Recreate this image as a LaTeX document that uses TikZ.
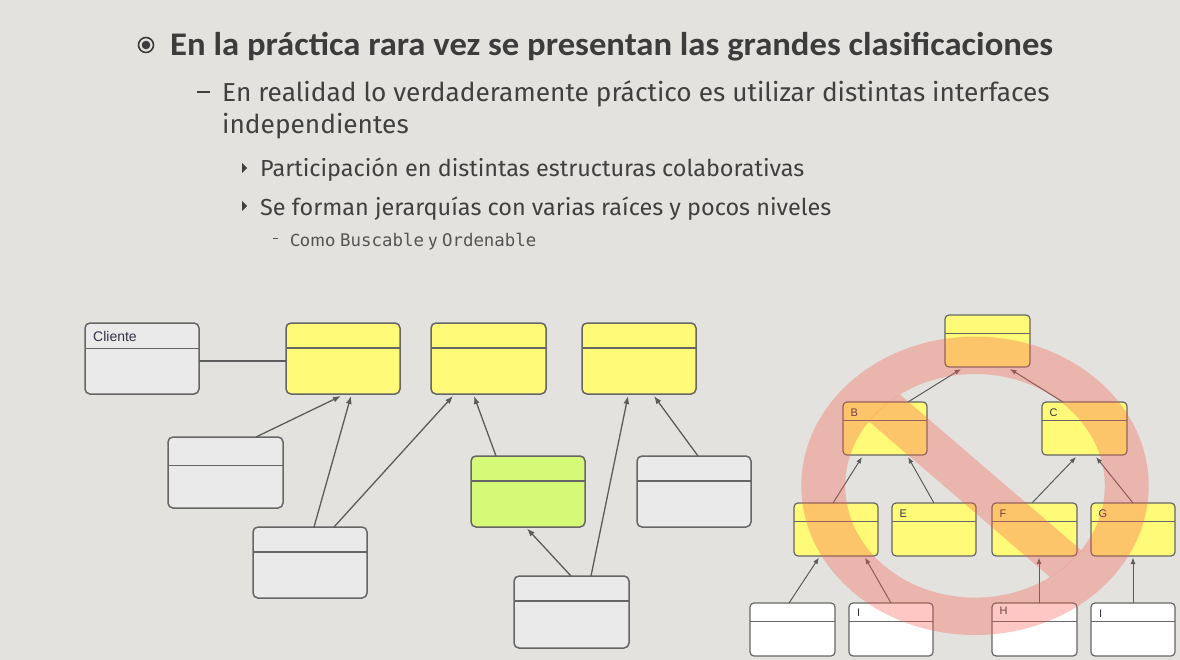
\documentclass[tikz,border=0pt]{standalone}
\usepackage{fontspec}
\usetikzlibrary{calc,arrows.meta}
\setmainfont{Fira Sans}
\newfontfamily\titlef{Carlito}[FakeStretch=1.05]
\newfontfamily\bodyf{Fira Sans}[FakeStretch=1.01]
\newfontfamily\umlf{Liberation Sans}
\newfontfamily\monof{DejaVu Sans Mono}
\definecolor{bgc}{RGB}{227,226,222}
\definecolor{txtc}{RGB}{60,60,60}
\definecolor{bodyc}{RGB}{64,64,64}
\definecolor{grayc}{RGB}{85,85,85}
\definecolor{ylw}{RGB}{255,250,120}
\definecolor{grn}{RGB}{213,250,120}
\definecolor{gbox}{RGB}{234,234,234}
\definecolor{edgec}{RGB}{102,102,102}
\definecolor{arrc}{RGB}{92,92,92}
\definecolor{lblc}{RGB}{50,50,70}
\definecolor{prohib}{RGB}{250,90,75}
\tikzset{
  bigbox/.style={draw=edgec, line width=1.5pt, rounded corners=5pt, inner sep=0pt, outer sep=0pt},
  smallbox/.style={draw=edgec, line width=1.2pt, rounded corners=4pt, inner sep=0pt, outer sep=0pt},
  divline/.style={draw=edgec, line width=1.5pt},
  sdivline/.style={draw=edgec, line width=1.2pt},
  arr/.style={draw=arrc, line width=1.3pt, -{Latex[length=8pt,width=6pt]}},
  sarr/.style={draw=arrc, line width=1pt, -{Latex[length=6.5pt,width=5pt]}},
  assoc/.style={draw=arrc, line width=1.3pt},
  lbl/.style={anchor=west, inner sep=0pt, text=lblc, font=\umlf\fontsize{14}{16}\selectfont},
  slbl/.style={anchor=west, inner sep=0pt, text=lblc, font=\umlf\fontsize{11}{13}\selectfont},
  txt/.style={anchor=base west, inner sep=0pt},
}
\newcommand{\mkbox}[8]{% style, divstyle, name, x, y, w, h, div
  \node[#1, minimum width=#6pt, minimum height=#7pt, anchor=north west] (#3) at (#4,#5) {};
  \draw[#2] ($(#3.north west)+(0,#8)$) -- ($(#3.north east)+(0,#8)$);
}
\begin{document}
\begin{tikzpicture}[x=1pt,y=-1pt]
\fill[bgc] (0,0) rectangle (1180,660);
\useasboundingbox (0,0) rectangle (1180,660);

% ---------- text ----------
\draw[txtc, line width=1.6pt] (146,45) circle (7.5);
\fill[txtc] (146,45) circle (4.3);
\node[txt, text=txtc, font=\titlef\bfseries\fontsize{33}{39}\selectfont] (title) at (170,56)
  {En la práctica rara vez se presentan las grandes clasificaciones};
\draw[bodyc, line width=2.6pt] (197,92) -- (210,92);
\node[txt, text=bodyc, font=\bodyf\fontsize{26}{30}\selectfont] (s1) at (222,101.5)
  {En realidad lo verdaderamente práctico es utilizar distintas interfaces};
\node[txt, text=bodyc, font=\bodyf\fontsize{26}{30}\selectfont] (s1b) at (222,133.5)
  {independientes};
\fill[bodyc] (242,163) -- (247,168) -- (242,173) -- cycle;
\node[txt, text=bodyc, font=\bodyf\fontsize{23.2}{27}\selectfont] (s2) at (260,177)
  {Participación en distintas estructuras colaborativas};
\fill[bodyc] (242,201) -- (247,206) -- (242,211) -- cycle;
\node[txt, text=bodyc, font=\bodyf\fontsize{23.2}{27}\selectfont] (s3) at (260,215.5)
  {Se forman jerarquías con varias raíces y pocos niveles};
\draw[grayc, line width=1.4pt] (273,238.5) -- (278,238.5);
\node[txt, text=grayc, font=\bodyf\fontsize{17.5}{21}\selectfont] (s4) at (290,246.5)
  {Como {\monof\fontsize{17.4}{21}\selectfont Buscable} y {\monof\fontsize{17.4}{21}\selectfont Ordenable}};

% ---------- left diagram ----------
\mkbox{bigbox, fill=gbox}{divline}{cliente}{85}{323}{114}{71}{25.5}
\mkbox{bigbox, fill=ylw}{divline}{ya}{286}{323}{114}{71}{25}
\mkbox{bigbox, fill=ylw}{divline}{yb}{431}{323}{115}{71}{25}
\mkbox{bigbox, fill=ylw}{divline}{yc}{582}{323}{114}{71}{25}
\mkbox{bigbox, fill=gbox}{divline}{ga}{168}{437}{115}{71}{28.7}
\mkbox{bigbox, fill=gbox}{divline}{gb}{253}{527}{114}{71}{25}
\mkbox{bigbox, fill=grn}{divline}{gr}{471}{456}{114}{71}{25}
\mkbox{bigbox, fill=gbox}{divline}{gc}{637}{456}{114}{71}{25}
\mkbox{bigbox, fill=gbox}{divline}{gd}{514}{576}{115}{72}{25}
\node[lbl] (clientelbl) at ($(cliente.north west)+(8,13)$) {Cliente};

\draw[assoc] ($(cliente.north east)+(0,38)$) -- ($(ya.north west)+(0,38)$);
\draw[arr] ($(ga.north west)+(88,0)$) -- ($(ya.south west)+(55,2)$);
\draw[arr] ($(gb.north west)+(61,0)$) -- ($(ya.south west)+(65,2)$);
\draw[arr] ($(gb.north west)+(81,0)$) -- ($(yb.south west)+(22,2)$);
\draw[arr] ($(gr.north west)+(25,0)$) -- ($(yb.south west)+(43,2)$);
\draw[arr] ($(gd.north west)+(57,0)$) -- ($(gr.south west)+(56,1.5)$);
\draw[arr] ($(gd.north west)+(77,0)$) -- ($(yc.south west)+(46,2)$);
\draw[arr] ($(gc.north west)+(61,0)$) -- ($(yc.south west)+(72,2)$);

% ---------- right diagram ----------
\mkbox{smallbox, fill=ylw}{sdivline}{top}{945}{315}{85}{52}{18.6}
\mkbox{smallbox, fill=ylw}{sdivline}{nb}{843}{402}{84}{53}{18.4}
\mkbox{smallbox, fill=ylw}{sdivline}{nc}{1042}{402}{85}{53}{18.4}
\mkbox{smallbox, fill=ylw}{sdivline}{nd}{794}{503}{84}{53}{18.3}
\mkbox{smallbox, fill=ylw}{sdivline}{ne}{892}{503}{84}{53}{18.3}
\mkbox{smallbox, fill=ylw}{sdivline}{nf}{992}{503}{85}{53}{18.3}
\mkbox{smallbox, fill=ylw}{sdivline}{ng}{1091}{503}{84}{53}{18.3}
\mkbox{smallbox, fill=white}{sdivline}{wa}{750}{603}{85}{53}{18.6}
\mkbox{smallbox, fill=white}{sdivline}{wi}{849}{603}{84}{53}{18.6}
\mkbox{smallbox, fill=white}{sdivline}{wh}{992}{603}{85}{53}{18.6}
\mkbox{smallbox, fill=white}{sdivline}{wj}{1091}{603}{84}{53}{18.6}
\node[slbl] (lb) at ($(nb.north west)+(7.5,10.5)$) {B};
\node[slbl] (lc) at ($(nc.north west)+(7.5,10.5)$) {C};
\node[slbl] (le) at ($(ne.north west)+(7.5,10.5)$) {E};
\node[slbl] (lf) at ($(nf.north west)+(7.5,10.5)$) {F};
\node[slbl] (lg) at ($(ng.north west)+(7.5,10.5)$) {G};
\node[slbl] (li) at ($(wi.north west)+(8,10)$) {I};
\node[slbl] (lh) at ($(wh.north west)+(7.5,8)$) {H};
\node[slbl] (lj) at ($(wj.north west)+(8,10.5)$) {I};

\draw[sarr] ($(nb.north west)+(65,0)$) -- ($(top.south west)+(16,2)$);
\draw[sarr] ($(nc.north west)+(21,0)$) -- ($(top.south west)+(65,2)$);
\draw[sarr] ($(nd.north west)+(39,0)$) -- ($(nb.south west)+(19,2)$);
\draw[sarr] ($(ne.north west)+(42,0)$) -- ($(nb.south west)+(65,2)$);
\draw[sarr] ($(nf.north west)+(40,0)$) -- ($(nc.south west)+(34,2)$);
\draw[sarr] ($(ng.north west)+(42,0)$) -- ($(nc.south west)+(54,2)$);
\draw[sarr] ($(wa.north west)+(39,0)$) -- ($(nd.south west)+(25,1.5)$);
\draw[sarr] ($(wi.north west)+(42,0)$) -- ($(nd.south west)+(71,1.5)$);
\draw[sarr] ($(wh.north west)+(47,0)$) -- ($(nf.south west)+(47,1.5)$);
\draw[sarr] ($(wj.north west)+(42,0)$) -- ($(ng.south west)+(42,1.5)$);

% ---------- prohibition sign ----------
\fill[prohib, fill opacity=0.33, even odd rule]
  (975,485.8) ellipse [x radius=173.7, y radius=149.2]
  (975,485.8) ellipse [x radius=129.8, y radius=111.8];
\begin{scope}[shift={(975,485.8)}, xscale=1.163]
  \clip (0,0) circle (111.9);
  \fill[prohib, fill opacity=0.33]
    (-106.6,-133.4) -- (133.4,106.6) -- (106.6,133.4) -- (-133.4,-106.6) -- cycle;
\end{scope}
\end{tikzpicture}
\end{document}
